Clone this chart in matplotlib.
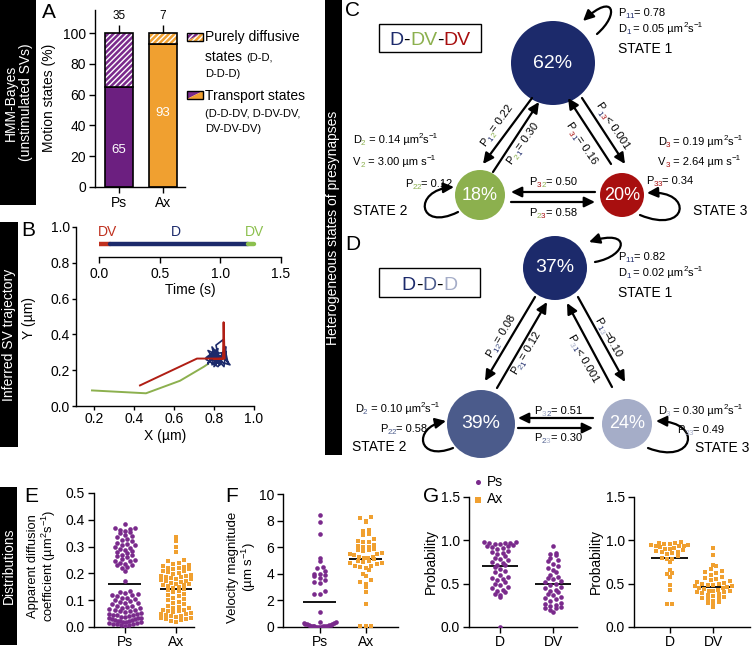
import numpy as np
import matplotlib
matplotlib.use("Agg")
import matplotlib.pyplot as plt
from matplotlib.patches import Rectangle, Circle, Polygon, FancyArrowPatch
from matplotlib.path import Path
from matplotlib.font_manager import FontProperties

# ---------------- data ----------------
# A: motion states (%)
a_groups = ["Ps", "Ax"]
a_transport = [65, 93]
a_diffusive = [35, 7]

# B: inferred states along time (s) and trajectory (um)
t_start = [0.0, 0.09, 1.23]
t_end = [0.09, 1.23, 1.28]
t_state = ["DV", "D", "DV"]
red_x = [0.43, 0.715, 0.845, 0.848, 0.853, 0.80]
red_y = [0.115, 0.265, 0.265, 0.468, 0.265, 0.262]
green_x = [0.19, 0.46, 0.63, 0.75, 0.77]
green_y = [0.087, 0.071, 0.141, 0.22, 0.235]
blue_x = [0.77, 0.80, 0.78, 0.83, 0.77, 0.81, 0.79, 0.84, 0.76, 0.82, 0.80, 0.86, 0.78,
          0.83, 0.81, 0.845, 0.87, 0.84, 0.88, 0.79, 0.82, 0.77, 0.80, 0.85, 0.86, 0.83,
          0.79, 0.81, 0.78, 0.84, 0.82, 0.76, 0.80]
blue_y = [0.235, 0.30, 0.25, 0.28, 0.31, 0.24, 0.33, 0.26, 0.27, 0.32, 0.22, 0.30, 0.29,
          0.23, 0.34, 0.37, 0.24, 0.29, 0.23, 0.26, 0.30, 0.24, 0.28, 0.22, 0.33, 0.27,
          0.23, 0.31, 0.27, 0.25, 0.22, 0.26, 0.29]

# C / D: HMM state diagrams
c_pct = [62, 18, 20]
c_self = ["0.78", "0.12", "0.34"]
c_diff = ["0.05", "0.14", "0.19"]
c_vel = ["", "3.00", "2.64"]
c_trans = {"12": "= 0.22", "21": "= 0.30", "13": "< 0.001", "31": "= 0.16", "23": "= 0.58", "32": "= 0.50"}
d_pct = [37, 39, 24]
d_self = ["0.82", "0.58", "0.49"]
d_diff = ["0.02", "0.10", "0.30"]
d_trans = {"12": "= 0.08", "21": "= 0.12", "13": "=0.10", "31": "< 0.001", "23": "= 0.30", "32": "= 0.51"}

# E: apparent diffusion coefficient (um2/s)
e_ps = [0.385, 0.37, 0.368, 0.365, 0.362, 0.36, 0.355, 0.35, 0.345, 0.34, 0.335, 0.33, 0.325,
        0.32, 0.315, 0.31, 0.307, 0.305, 0.30, 0.295, 0.29, 0.288, 0.285, 0.28, 0.275, 0.27,
        0.268, 0.265, 0.26, 0.255, 0.25, 0.248, 0.245, 0.24, 0.235, 0.232, 0.23, 0.225, 0.22,
        0.21, 0.172, 0.135, 0.13, 0.128, 0.125, 0.12, 0.118, 0.115, 0.11, 0.108, 0.105, 0.10,
        0.098, 0.095, 0.09, 0.088, 0.085, 0.08, 0.078, 0.075, 0.072, 0.07, 0.068, 0.065, 0.062,
        0.06, 0.058, 0.055, 0.053, 0.05, 0.048, 0.046, 0.045, 0.043, 0.04, 0.038, 0.037, 0.035,
        0.033, 0.032, 0.03, 0.028, 0.027, 0.025, 0.024, 0.022, 0.021, 0.02, 0.018, 0.017, 0.015,
        0.014, 0.012, 0.011, 0.01, 0.008, 0.007, 0.005]
e_ax = [0.335, 0.32, 0.30, 0.28, 0.25, 0.245, 0.24, 0.235, 0.23, 0.228, 0.225, 0.222, 0.22,
        0.218, 0.215, 0.21, 0.208, 0.205, 0.20, 0.198, 0.195, 0.192, 0.19, 0.188, 0.185, 0.182,
        0.18, 0.178, 0.175, 0.172, 0.17, 0.168, 0.165, 0.162, 0.16, 0.158, 0.155, 0.152, 0.15,
        0.145, 0.14, 0.138, 0.135, 0.13, 0.125, 0.12, 0.115, 0.11, 0.105, 0.10, 0.095, 0.09,
        0.085, 0.08, 0.075, 0.072, 0.07, 0.065, 0.062, 0.06, 0.058, 0.055, 0.052, 0.05, 0.048,
        0.045, 0.042, 0.04, 0.038, 0.035, 0.032, 0.03, 0.028, 0.025, 0.022, 0.02]
e_means = [0.16, 0.14]

# F: velocity magnitude (um/s)
f_ps = [8.4, 7.9, 7.0, 5.2, 5.0, 4.5, 4.4, 4.2, 4.0, 4.0, 3.9, 3.8, 3.7, 3.5, 3.4, 3.3, 2.7,
        2.5, 2.5, 1.1, 0.4, 0.35, 0.3, 0.3, 0.25, 0.2, 0.2, 0.15, 0.15, 0.12, 0.1, 0.1, 0.08,
        0.06, 0.05, 0.04, 0.03, 0.02, 0.01, 0.0]
f_ax = [8.3, 8.2, 8.0, 7.9, 7.3, 7.2, 7.0, 6.9, 6.6, 6.5, 6.4, 6.4, 6.2, 6.1, 6.0, 6.0, 5.9,
        5.8, 5.8, 5.7, 5.6, 5.5, 5.5, 5.4, 5.3, 5.3, 5.2, 5.2, 5.1, 5.0, 5.0, 4.9, 4.8, 4.8,
        4.7, 4.6, 4.6, 4.5, 4.4, 4.3, 4.0, 3.8, 3.5, 3.4, 3.2, 3.0, 2.6, 1.7, 0.05, 0.05, 0.05]
f_means = [1.9, 5.1]

# G: state probability
g_ps_d = [0.98, 0.98, 0.97, 0.97, 0.97, 0.96, 0.96, 0.95, 0.94, 0.93, 0.92, 0.91, 0.90, 0.88,
          0.87, 0.85, 0.84, 0.82, 0.80, 0.79, 0.77, 0.75, 0.74, 0.72, 0.71, 0.69, 0.67, 0.65,
          0.63, 0.60, 0.58, 0.57, 0.55, 0.54, 0.52, 0.50, 0.48, 0.46, 0.45, 0.43, 0.42, 0.40,
          0.38, 0.37, 0.35, 0.0]
g_ps_dv = [0.94, 0.85, 0.84, 0.83, 0.80, 0.77, 0.76, 0.73, 0.70, 0.68, 0.66, 0.63, 0.60, 0.58,
           0.57, 0.55, 0.53, 0.52, 0.50, 0.48, 0.46, 0.45, 0.43, 0.42, 0.40, 0.38, 0.37, 0.35,
           0.33, 0.32, 0.30, 0.28, 0.27, 0.25, 0.24, 0.23, 0.22, 0.22, 0.20, 0.17]
g_ax_d = [0.98, 0.97, 0.97, 0.96, 0.96, 0.95, 0.95, 0.94, 0.93, 0.93, 0.92, 0.91, 0.90, 0.90,
          0.89, 0.88, 0.87, 0.86, 0.85, 0.84, 0.82, 0.80, 0.79, 0.78, 0.75, 0.66, 0.62, 0.61,
          0.58, 0.48, 0.43, 0.27, 0.26]
g_ax_dv = [0.91, 0.83, 0.72, 0.70, 0.67, 0.65, 0.64, 0.62, 0.60, 0.58, 0.56, 0.55, 0.54, 0.53,
           0.52, 0.51, 0.50, 0.50, 0.49, 0.48, 0.47, 0.47, 0.46, 0.45, 0.45, 0.44, 0.43, 0.42,
           0.42, 0.41, 0.40, 0.40, 0.39, 0.38, 0.37, 0.36, 0.35, 0.34, 0.33, 0.32, 0.30, 0.29,
           0.28, 0.25, 0.23]
g_ps_means = [0.70, 0.50]
g_ax_means = [0.80, 0.46]

# ---------------- style ----------------
PURPLE = "#7a2a8c"
PURPLE_BAR = "#6c1f80"
ORANGE = "#f0a030"
NAVY = "#1c2a6b"
GREEN = "#8cb04e"
RED = "#a80f0f"
NAVY2 = "#4b5b8b"
NAVY3 = "#a5adc8"

plt.rcParams["font.family"] = ["Liberation Sans", "DejaVu Sans"]
plt.rcParams["mathtext.fontset"] = "custom"
plt.rcParams["mathtext.rm"] = "Liberation Sans"
plt.rcParams["mathtext.it"] = "Liberation Sans:italic"
plt.rcParams["font.size"] = 10
plt.rcParams["axes.linewidth"] = 1.0
plt.rcParams["hatch.linewidth"] = 1.0
plt.rcParams["hatch.color"] = "white"

W, H = 754, 651
fig = plt.figure(figsize=(W / 100, H / 100), dpi=100)

# overlay axes in pixel units for labels, bars and the schematic
ov = fig.add_axes([0, 0, 1, 1])
ov.set_xlim(0, W)
ov.set_ylim(H, 0)
ov.axis("off")
renderer = fig.canvas.get_renderer()


def px_axes(x0, y0, x1, y1):
    a = fig.add_axes([x0 / W, 1 - y1 / H, (x1 - x0) / W, (y1 - y0) / H])
    a.set_facecolor("none")
    a.spines["top"].set_visible(False)
    a.spines["right"].set_visible(False)
    a.tick_params(direction="out", length=4, width=1, labelsize=10, pad=2.5)
    return a


def text_w(s, size):
    fp = FontProperties(family=["Liberation Sans", "DejaVu Sans"], size=size)
    w1 = renderer.get_text_width_height_descent("|" + s + "|", fp, ismath=False)[0]
    w0 = renderer.get_text_width_height_descent("||", fp, ismath=False)[0]
    return w1 - w0


def rich(x, y, parts, fs=8, rot=0.0, ha="left"):
    th = np.radians(rot)
    ux, uy = np.cos(th), -np.sin(th)
    vx, vy = -np.sin(th), -np.cos(th)
    em = fs * 100 / 72
    items = []
    for p in parts:
        s, c, m = p[:3]
        size = p[3] if len(p) > 3 else (fs * 0.72 if m in ("sub", "sup") else fs)
        items.append((s, c, m, size, text_w(s, size)))
    total = sum(i[4] for i in items)
    adv = -total / 2 if ha == "center" else 0.0
    bx, by = x - vx * 0.36 * em, y - vy * 0.36 * em
    for s, c, m, size, w in items:
        dv = -0.22 * em if m == "sub" else (0.42 * em if m == "sup" else 0.0)
        ov.text(bx + ux * adv + vx * dv, by + uy * adv + vy * dv, s, color=c, fontsize=size,
                rotation=rot, rotation_mode="anchor", ha="left", va="baseline")
        adv += w


def side_bar(x0, y0, x1, y1, label):
    ov.add_patch(Rectangle((x0, y0), x1 - x0, y1 - y0, color="black", lw=0))
    ov.text((x0 + x1) / 2, (y0 + y1) / 2, label, color="white", rotation=90, ha="center",
            va="center", fontsize=10, multialignment="center", linespacing=1.1)


def swarm(vals, center, bin_h, dx, maxw):
    vals = np.asarray(vals, float)
    xs = np.zeros_like(vals)
    bins = np.floor(vals / bin_h).astype(int)
    for b in np.unique(bins):
        idx = np.where(bins == b)[0]
        idx = idx[np.argsort(vals[idx])]
        n = len(idx)
        step = dx if n <= 1 else min(dx, maxw / (n - 1))
        slots = (np.arange(n) - (n - 1) / 2) * step
        order = np.argsort(np.abs(slots), kind="stable")
        xs[idx] = center + slots[order]
    return xs


def dotplot(ax, series, colors, markers, means, bin_h, dx, maxw, half):
    for i, (vals, col, mk, mu) in enumerate(zip(series, colors, markers, means)):
        xs = swarm(vals, i, bin_h, dx, maxw)
        ax.hlines(mu, i - half, i + half, color="k", lw=1.3, zorder=2)
        ax.scatter(xs, vals, s=11, c=col, marker=mk, linewidths=0, zorder=3)


def letter(x, y, s):
    ov.text(x, y, s, fontsize=15, ha="center", va="center")


# ---------------- side bars ----------------
side_bar(0, 0, 36, 205, "HMM-Bayes\n(unstimulated SVs)")
side_bar(0, 222, 18, 447, "Inferred SV trajectory")
side_bar(325, 0, 342, 455, "Heterogeneous states of presynapses")
side_bar(0, 487, 17, 645, "Distributions")

# ---------------- A ----------------
letter(49, 12, "A")
axA = px_axes(95, 10, 185, 187)
xa = np.arange(len(a_groups))
axA.bar(xa, a_transport, width=0.645, color=[PURPLE_BAR, ORANGE], edgecolor="k", lw=1.2, zorder=2)
axA.bar(xa, a_diffusive, bottom=a_transport, width=0.645, color=[PURPLE, ORANGE],
        edgecolor="white", hatch="//////", lw=0, zorder=2)
axA.bar(xa, a_diffusive, bottom=a_transport, width=0.645, fill=False, edgecolor="k", lw=1.2, zorder=3)
axA.vlines(xa, 100, 105, color="k", lw=1)
for i in range(len(a_groups)):
    axA.text(i, 107, str(a_diffusive[i]), ha="center", va="bottom", fontsize=8.5)
axA.text(0, 24, str(a_transport[0]), ha="center", va="center", fontsize=9.5, color="white", zorder=4)
axA.text(1, 48, str(a_transport[1]), ha="center", va="center", fontsize=9.5, color="white", zorder=4)
axA.set_xlim(-0.55, 1.5)
axA.set_ylim(0, 115)
axA.set_yticks([0, 20, 40, 60, 80, 100])
axA.set_xticks(xa)
axA.set_xticklabels(a_groups)
axA.set_ylabel("Motion states (%)", fontsize=10)
axA.yaxis.set_label_coords(56, 98, transform=ov.transData)

# A legend icons
for yy, hatch in [(33, "//////"), (91, None)]:
    ul = Polygon([(187, yy + 8), (187, yy), (203, yy)], closed=True, facecolor=PURPLE,
                 edgecolor="white" if hatch else PURPLE, hatch=hatch, lw=0)
    lr = Polygon([(187, yy + 8), (203, yy + 8), (203, yy)], closed=True, facecolor=ORANGE,
                 edgecolor="white" if hatch else ORANGE, hatch=hatch, lw=0)
    ov.add_patch(ul)
    ov.add_patch(lr)
    ov.add_patch(Rectangle((187, yy), 16, 8, fill=False, edgecolor="k", lw=1))
rich(205, 37, [("Purely diffusive", "k", "", 10)])
rich(205, 57, [("states ", "k", "", 10), ("(D-D,", "k", "", 8)])
rich(205, 73, [("D-D-D)", "k", "", 8)])
rich(205, 96, [("Transport states", "k", "", 10)])
rich(205, 113, [("(D-D-DV, D-DV-DV,", "k", "", 8)])
rich(205, 128, [("DV-DV-DV)", "k", "", 8)])

# ---------------- B ----------------
letter(28, 230, "B")
axB = px_axes(76, 227, 254, 406)
axB.tick_params(length=3, pad=1.5)
axB.plot(green_x, green_y, color=GREEN, lw=1.4)
axB.plot(blue_x, blue_y, color=NAVY, lw=1.2)
axB.plot(red_x, red_y, color="#b01e14", lw=1.4)
axB.set_xlim(0.11, 1.0)
axB.set_ylim(0, 1.0)
axB.set_xticks([0.2, 0.4, 0.6, 0.8, 1.0])
axB.set_yticks([0.0, 0.2, 0.4, 0.6, 0.8, 1.0])
axB.xaxis.set_major_formatter(matplotlib.ticker.FormatStrFormatter("%.1f"))
axB.yaxis.set_major_formatter(matplotlib.ticker.FormatStrFormatter("%.1f"))
axB.set_xlabel("X (µm)", fontsize=10)
axB.xaxis.set_label_coords(165, 429, transform=ov.transData)
axB.set_ylabel("Y (µm)", fontsize=10)
axB.yaxis.set_label_coords(36, 318, transform=ov.transData)

axT = px_axes(99, 225, 281, 257)
axT.spines["left"].set_visible(False)
axT.tick_params(pad=3.5)
seg_cols = ["#c0301e", NAVY, "#8cc04e"]
for s0, s1, col in zip(t_start, t_end, seg_cols):
    axT.plot([s0, s1], [0.4, 0.4], color=col, lw=3.2, solid_capstyle="round")
axT.text(0.07, 0.78, t_state[0], color=seg_cols[0], ha="center", va="center", fontsize=10)
axT.text(0.63, 0.78, t_state[1], color=seg_cols[1], ha="center", va="center", fontsize=10)
axT.text(1.28, 0.78, t_state[2], color=seg_cols[2], ha="center", va="center", fontsize=10)
axT.set_xlim(0, 1.5)
axT.set_ylim(0, 1)
axT.set_yticks([])
axT.set_xticks([0, 0.5, 1.0, 1.5])
axT.xaxis.set_major_formatter(matplotlib.ticker.FormatStrFormatter("%.1f"))
axT.set_xlabel("Time (s)", fontsize=10)
axT.xaxis.set_label_coords(190, 283, transform=ov.transData)


# ---------------- C / D schematics ----------------
def state_circle(xy, r, color, pct, fs):
    ov.add_patch(Circle(xy, r, color=color, lw=0, zorder=2))
    ov.text(xy[0], xy[1], f"{pct}%", color="white", fontsize=fs, ha="center", va="center", zorder=3)


def arrow(p0, p1):
    ov.annotate("", xy=p1, xytext=p0,
                arrowprops=dict(arrowstyle="-|>,head_length=0.45,head_width=0.22", lw=1.6,
                                color="k", shrinkA=0, shrinkB=0, mutation_scale=14))


def loop(pts):
    path = Path(pts, [Path.MOVETO, Path.CURVE4, Path.CURVE4, Path.CURVE4])
    ov.add_patch(FancyArrowPatch(path=path, arrowstyle="-|>,head_length=0.45,head_width=0.22",
                                 mutation_scale=14, lw=1.6, color="k"))


def box_label(x0, y0, x1, y1, parts):
    ov.add_patch(Rectangle((x0, y0), x1 - x0, y1 - y0, fill=False, edgecolor="k", lw=1))
    rich((x0 + x1) / 2, (y0 + y1) / 2, parts, fs=14, ha="center")


def unit_parts(sym, idx, col, val, vel=False):
    if vel:
        return [(sym, "k", ""), (idx, col, "sub"), (f" = {val} µm s", "k", ""), ("−1", "k", "sup")]
    return [(sym, "k", ""), (idx, col, "sub"), (f" = {val} µm", "k", ""), ("2", "k", "sup"),
            ("s", "k", ""), ("−1", "k", "sup")]


def p_parts(i, j, cols, val):
    return [("P", "k", ""), (i, cols[int(i) - 1], "sub"), (j, cols[int(j) - 1], "sub"), (val, "k", "")]


# C
cc = [NAVY, GREEN, RED]
letter(353, 11, "C")
box_label(379, 24, 481, 52, [("D", NAVY, ""), ("-", "k", ""), ("DV", GREEN, ""), ("-", "k", ""), ("DV", RED, "")])
state_circle((553, 63), 42, NAVY, c_pct[0], 14)
state_circle((480, 195), 25, GREEN, c_pct[1], 13)
state_circle((622, 195), 22, RED, c_pct[2], 13)
arrow((532, 98), (483, 164))
arrow((493, 172), (539, 102))
arrow((582, 98), (625, 164))
arrow((611, 164), (568, 98))
arrow((595, 192), (511, 192))
arrow((511, 202), (595, 202))
loop([(597, 34), (620, 14), (614, -8), (583, 21)])
loop([(458, 212), (418, 232), (412, 190), (454, 187)])
loop([(640, 215), (688, 235), (694, 190), (647, 193)])
rich(496, 125, p_parts("1", "2", cc, c_trans["12"]), rot=54, ha="center")
rich(522, 143, p_parts("2", "1", cc, c_trans["21"]), rot=54, ha="center")
rich(613, 125, p_parts("1", "3", cc, c_trans["13"]), rot=-56, ha="center")
rich(582, 143, p_parts("3", "1", cc, c_trans["31"]), rot=-56, ha="center")
rich(553, 181, p_parts("3", "2", cc, c_trans["32"]), ha="center")
rich(553, 212, p_parts("2", "3", cc, c_trans["23"]), ha="center")
rich(618, 12, p_parts("1", "1", cc, "= " + c_self[0]))
rich(618, 28, unit_parts("D", "1", NAVY, c_diff[0]))
rich(618, 49, [("STATE 1", "k", "", 10)])
rich(353, 139, unit_parts("D", "2", GREEN, c_diff[1]))
rich(353, 161, unit_parts("V", "2", GREEN, c_vel[1], vel=True))
rich(405, 183, p_parts("2", "2", cc, "= " + c_self[1]))
rich(353, 211, [("STATE 2", "k", "", 10)])
rich(658, 141, unit_parts("D", "3", RED, c_diff[2]))
rich(658, 161, unit_parts("V", "3", RED, c_vel[2], vel=True))
rich(646, 180, p_parts("3", "3", cc, "= " + c_self[2]))
rich(693, 211, [("STATE 3", "k", "", 10)])

# D
dc = [NAVY, NAVY2, NAVY3]
letter(353, 245, "D")
box_label(379, 268, 480, 297, [("D", NAVY, ""), ("-", "k", ""), ("D", NAVY2, ""), ("-", "k", ""), ("D", NAVY3, "")])
state_circle((555, 268), 32, NAVY, d_pct[0], 14)
state_circle((481, 424), 34, NAVY2, d_pct[1], 14)
state_circle((627, 424), 25, NAVY3, d_pct[2], 13)
arrow((535, 297), (485, 381))
arrow((497, 388), (547, 302))
arrow((578, 297), (625, 382))
arrow((612, 387), (567, 303))
arrow((593, 418), (518, 418))
arrow((518, 428), (593, 428))
loop([(595, 262), (628, 256), (632, 228), (589, 242)])
loop([(453, 448), (418, 462), (412, 428), (446, 421)])
loop([(648, 448), (694, 466), (704, 422), (656, 421)])
rich(500, 336, p_parts("1", "2", dc, d_trans["12"]), rot=59, ha="center")
rich(525, 353, p_parts("2", "1", dc, d_trans["21"]), rot=59, ha="center")
rich(609, 337, p_parts("1", "3", dc, d_trans["13"]), rot=-60, ha="center")
rich(584, 358, p_parts("3", "1", dc, d_trans["31"]), rot=-60, ha="center")
rich(558, 410, p_parts("3", "2", dc, d_trans["32"]), ha="center")
rich(558, 437, p_parts("2", "3", dc, d_trans["23"]), ha="center")
rich(618, 256, p_parts("1", "1", dc, "= " + d_self[0]))
rich(618, 272, unit_parts("D", "1", NAVY, d_diff[0]))
rich(618, 293, [("STATE 1", "k", "", 10)])
rich(355, 408, unit_parts("D", "2", NAVY2, d_diff[1]))
rich(380, 428, p_parts("2", "2", dc, "= " + d_self[1]))
rich(352, 447, [("STATE 2", "k", "", 10)])
rich(658, 410, unit_parts("D", "3", NAVY3, d_diff[2]))
rich(677, 429, p_parts("3", "3", dc, "= " + d_self[2]))
rich(695, 448, [("STATE 3", "k", "", 10)])

# ---------------- E ----------------
letter(31, 497, "E")
axE = px_axes(94, 493, 194, 627)
axE.tick_params(axis="x", pad=1.5)
dotplot(axE, [e_ps, e_ax], [PURPLE, ORANGE], ["o", "s"], e_means, 0.018, 0.1, 0.62, 0.32)
axE.set_xlim(-0.6, 1.35)
axE.set_ylim(0, 0.5)
axE.set_yticks([0.0, 0.1, 0.2, 0.3, 0.4, 0.5])
axE.yaxis.set_major_formatter(matplotlib.ticker.FormatStrFormatter("%.1f"))
axE.set_xticks([0, 1])
axE.set_xticklabels(["Ps", "Ax"])
axE.set_ylabel("Apparent diffusion\ncoefficient (µm$^{2}$s$^{-1}$)", fontsize=9.3, linespacing=1.05)
axE.yaxis.set_label_coords(58, 566, transform=ov.transData)

# ---------------- F ----------------
letter(232, 497, "F")
axF = px_axes(283, 494, 398, 627)
axF.tick_params(axis="x", pad=1.5)
dotplot(axF, [f_ps, f_ax], [PURPLE, ORANGE], ["o", "s"], f_means, 0.4, 0.12, 0.7, 0.36)
axF.set_xlim(-0.8, 1.7)
axF.set_ylim(0, 10)
axF.set_yticks([0, 2, 4, 6, 8, 10])
axF.set_xticks([0, 1])
axF.set_xticklabels(["Ps", "Ax"])
axF.set_ylabel("Velocity magnitude\n(µm s$^{-1}$)", fontsize=9.5, linespacing=1.05)
axF.yaxis.set_label_coords(258, 567, transform=ov.transData)

# ---------------- G ----------------
letter(431, 497, "G")
axG1 = px_axes(469, 497, 577, 627)
dotplot(axG1, [g_ps_d, g_ps_dv], [PURPLE, PURPLE], ["o", "o"], g_ps_means, 0.06, 0.1, 0.7, 0.34)
axG1.set_xlim(-0.58, 1.45)
axG2 = px_axes(634, 497, 750, 627)
dotplot(axG2, [g_ax_d, g_ax_dv], [ORANGE, ORANGE], ["s", "s"], g_ax_means, 0.06, 0.125, 0.85, 0.42)
axG2.set_xlim(-0.82, 1.84)
for a, lx in [(axG1, 438), (axG2, 603)]:
    a.tick_params(axis="x", pad=1.5)
    a.set_ylim(0, 1.5)
    a.set_yticks([0.0, 0.5, 1.0, 1.5])
    a.yaxis.set_major_formatter(matplotlib.ticker.FormatStrFormatter("%.1f"))
    a.set_xticks([0, 1])
    a.set_xticklabels(["D", "DV"])
    a.set_ylabel("Probability", fontsize=10)
    a.yaxis.set_label_coords(lx, 562, transform=ov.transData)

h_ps = axG1.scatter([], [], s=13, c=PURPLE, marker="o", linewidths=0)
h_ax = axG1.scatter([], [], s=13, c=ORANGE, marker="s", linewidths=0)
axG1.legend([h_ps, h_ax], ["Ps", "Ax"], loc="upper left", bbox_to_anchor=(474, 475),
            bbox_transform=ov.transData, frameon=False, fontsize=10, handlelength=0.6,
            handletextpad=0.3, labelspacing=0.25, borderpad=0, borderaxespad=0)

fig.savefig("out.png", dpi=100)
